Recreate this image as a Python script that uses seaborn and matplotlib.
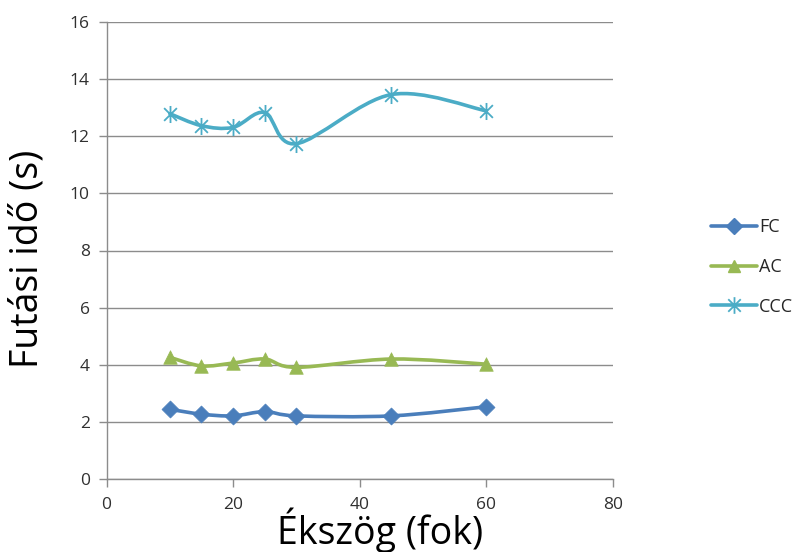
import numpy as np
import pandas as pd
import matplotlib
matplotlib.use("Agg")
import matplotlib.pyplot as plt
import seaborn as sns
from matplotlib.path import Path
from matplotlib.patches import PathPatch
from matplotlib.lines import Line2D

# ---- data ----
angles = [10, 15, 20, 25, 30, 45, 60]
fc = [2.44, 2.27, 2.21, 2.36, 2.21, 2.21, 2.53]
ac = [4.26, 3.96, 4.06, 4.20, 3.91, 4.20, 4.02]
ccc = [12.79, 12.37, 12.31, 12.83, 11.74, 13.46, 12.89]
series_names = ["FC", "AC", "CCC"]
x_ticks = [0, 20, 40, 60, 80]
y_ticks = [0, 2, 4, 6, 8, 10, 12, 14, 16]

x_label = "Ékszög (fok)"
y_label = "Futási idő (s)"

# ---- styles ----
colors = {"FC": "#4a7ebb", "AC": "#98b954", "CCC": "#4bacc6"}
star = Path([(0, -1), (0, 1), (-0.75, -0.75), (0.75, 0.75), (-0.75, 0.75), (0.75, -0.75)],
            [Path.MOVETO, Path.LINETO, Path.MOVETO, Path.LINETO, Path.MOVETO, Path.LINETO])
markers = {"FC": "D", "AC": "^", "CCC": star}
msize = {"FC": 75, "AC": 95, "CCC": 150}

sns.set_theme(style="white")
plt.rcParams["font.family"] = ["Open Sans", "DejaVu Sans"]

df = pd.DataFrame({"angle": angles * 3,
                   "time": fc + ac + ccc,
                   "series": sum([[n] * len(angles) for n in series_names], [])})

fig = plt.figure(figsize=(7.98, 5.52), dpi=100)
ax = fig.add_axes([106.5 / 798, 1 - 479 / 552, (613 - 106.5) / 798, (479 - 22) / 552])


def smooth_path(xs, ys, t=1 / 6):
    pts = np.column_stack([xs, ys]).astype(float)
    n = len(pts)
    verts = [pts[0]]
    codes = [Path.MOVETO]
    for i in range(n - 1):
        p0 = pts[max(i - 1, 0)]
        p1 = pts[i]
        p2 = pts[i + 1]
        p3 = pts[min(i + 2, n - 1)]
        c1 = p1 + (p2 - p0) * t
        c2 = p2 - (p3 - p1) * t
        verts += [c1, c2, p2]
        codes += [Path.CURVE4] * 3
    return Path(verts, codes)


handles = []
for name in series_names:
    sub = df[df["series"] == name]
    c = colors[name]
    patch = PathPatch(smooth_path(sub["angle"], sub["time"]), facecolor="none",
                      edgecolor=c, lw=2.6, zorder=3, capstyle="round", joinstyle="round")
    ax.add_patch(patch)
    if name == "CCC":
        sns.scatterplot(data=sub, x="angle", y="time", marker=markers[name], s=msize[name],
                        color=c, edgecolor=c, linewidth=1.3, ax=ax, zorder=4, legend=False)
        h = Line2D([], [], color=c, lw=2.6, marker=markers[name], markersize=12,
                   markerfacecolor="none", markeredgecolor=c, markeredgewidth=1.3)
    else:
        sns.scatterplot(data=sub, x="angle", y="time", marker=markers[name], s=msize[name],
                        color=c, edgecolor=c, linewidth=0.5, ax=ax, zorder=4, legend=False)
        h = Line2D([], [], color=c, lw=2.6, marker=markers[name], markersize=8,
                   markerfacecolor=c, markeredgecolor=c)
    handles.append(h)

ax.set_xlim(0, 80)
ax.set_ylim(0, 16)
ax.set_xticks(x_ticks)
ax.set_yticks(y_ticks)
ax.set_xticklabels([str(v) for v in x_ticks])
ax.set_yticklabels([str(v) for v in y_ticks])
ax.set_xlabel("")
ax.set_ylabel("")

grid_c = "#8c8c8c"
ax.yaxis.grid(True, color=grid_c, lw=1.0)
ax.xaxis.grid(False)
ax.set_axisbelow(True)
for s in ["top", "right"]:
    ax.spines[s].set_visible(False)
for s in ["left", "bottom"]:
    ax.spines[s].set_color(grid_c)
    ax.spines[s].set_linewidth(1.0)
ax.tick_params(axis="both", which="major", direction="out", length=6, width=1.0,
               color=grid_c, labelsize=12.5, labelcolor="#303030")
ax.tick_params(axis="x", bottom=True, pad=7)
ax.tick_params(axis="y", left=True, pad=6)

fig.text(380 / 798, 1 - 544 / 552, x_label, fontsize=27, color="black",
         ha="center", va="baseline")
fig.text(28 / 798, 1 - 258.5 / 552, y_label, fontsize=27, color="black",
         ha="center", va="center", rotation=90)

fig.legend(handles, series_names, loc="center left", bbox_to_anchor=(711 / 798, 1 - 267 / 552),
           frameon=False, fontsize=13, labelspacing=1.2, handlelength=2.55,
           handletextpad=0.12, borderpad=0, borderaxespad=0)

fig.savefig("out.png", dpi=100, facecolor="white")
